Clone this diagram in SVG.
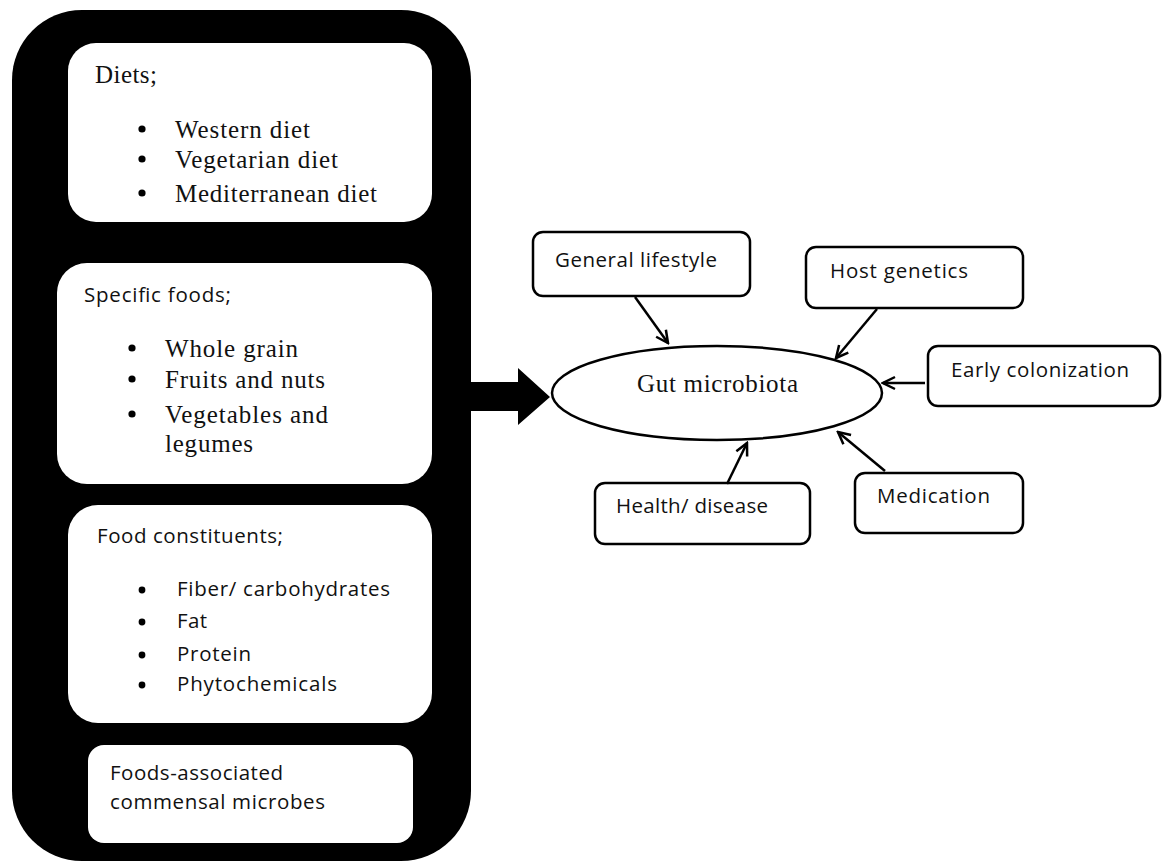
<svg xmlns="http://www.w3.org/2000/svg" width="1163" height="862" viewBox="0 0 1163 862">
  <defs>
    <style>
      .panel { fill: #ffffff; stroke: none; }
      .factor { fill: #ffffff; stroke: #000000; stroke-width: 2.5; }
      .serif { font-family: "Liberation Serif", "Times New Roman", serif; font-size: 25px; fill: #111111; }
      .sans { font-family: "Open Sans", "Liberation Sans", Arial, sans-serif; font-size: 20.5px; fill: #111111; }
      .link { stroke: #000000; stroke-width: 2.5; fill: none; marker-end: url(#open-arrow); }
      .dot { fill: #000000; }
    </style>
    <marker id="open-arrow" markerUnits="userSpaceOnUse" markerWidth="16" markerHeight="16" viewBox="0 0 16 16" refX="14" refY="8" orient="auto">
      <path d="M2,2 L14,8 L2,14" fill="none" stroke="#000000" stroke-width="2.5" stroke-linejoin="miter"/>
    </marker>
  </defs>

  <rect width="1163" height="862" fill="#ffffff"/>

  <!-- Dietary factors column -->
  <g id="diet-factors">
    <rect x="12" y="10" width="459" height="851" rx="70" ry="70" fill="#000000"/>
    <polygon points="465,382 518,382 518,368 550,397 518,425 518,411 465,411" fill="#000000"/>
  </g>

  <g id="diets">
    <rect class="panel" x="68" y="43" width="364" height="179" rx="28"/>
    <text class="serif" x="95" y="83" textLength="62" lengthAdjust="spacing">Diets;</text>
    <circle class="dot" cx="142" cy="129" r="3.6"/>
    <circle class="dot" cx="142" cy="159" r="3.6"/>
    <circle class="dot" cx="142" cy="193" r="3.6"/>
    <text class="serif" x="175" y="138" textLength="135" lengthAdjust="spacing">Western diet</text>
    <text class="serif" x="175" y="168" textLength="163" lengthAdjust="spacing">Vegetarian diet</text>
    <text class="serif" x="175" y="202" textLength="202" lengthAdjust="spacing">Mediterranean diet</text>
  </g>

  <g id="specific-foods">
    <rect class="panel" x="57" y="263" width="375" height="221" rx="30"/>
    <text class="sans" x="84" y="302" textLength="147" lengthAdjust="spacing">Specific foods;</text>
    <circle class="dot" cx="132" cy="348" r="3.6"/>
    <circle class="dot" cx="132" cy="379" r="3.6"/>
    <circle class="dot" cx="132" cy="414" r="3.6"/>
    <text class="serif" x="165" y="357" textLength="133" lengthAdjust="spacing">Whole grain</text>
    <text class="serif" x="165" y="388" textLength="160" lengthAdjust="spacing">Fruits and nuts</text>
    <text class="serif" x="165" y="423" textLength="163" lengthAdjust="spacing">Vegetables and</text>
    <text class="serif" x="165" y="452" textLength="88" lengthAdjust="spacing">legumes</text>
  </g>

  <g id="food-constituents">
    <rect class="panel" x="68" y="505" width="364" height="218" rx="30"/>
    <text class="sans" x="97" y="543" textLength="186" lengthAdjust="spacing">Food constituents;</text>
    <circle class="dot" cx="142" cy="590" r="3.4"/>
    <circle class="dot" cx="142" cy="622" r="3.4"/>
    <circle class="dot" cx="142" cy="655" r="3.4"/>
    <circle class="dot" cx="142" cy="685" r="3.4"/>
    <text class="sans" x="177" y="596" textLength="213" lengthAdjust="spacing">Fiber/ carbohydrates</text>
    <text class="sans" x="177" y="628" textLength="30" lengthAdjust="spacing">Fat</text>
    <text class="sans" x="177" y="661" textLength="74" lengthAdjust="spacing">Protein</text>
    <text class="sans" x="177" y="691" textLength="160" lengthAdjust="spacing">Phytochemicals</text>
  </g>

  <g id="commensal-microbes">
    <rect class="panel" x="88" y="745" width="325" height="98" rx="16"/>
    <text class="sans" x="110" y="780" textLength="173" lengthAdjust="spacing">Foods-associated</text>
    <text class="sans" x="110" y="809" textLength="215" lengthAdjust="spacing">commensal microbes</text>
  </g>

  <!-- Central node -->
  <g id="gut-microbiota">
    <ellipse cx="717" cy="393" rx="165" ry="47" fill="#ffffff" stroke="#000000" stroke-width="2.5"/>
    <text class="serif" x="637" y="392" textLength="161" lengthAdjust="spacing">Gut microbiota</text>
  </g>

  <!-- Other influencing factors -->
  <g id="general-lifestyle">
    <rect class="factor" x="533" y="232" width="217" height="64" rx="10"/>
    <text class="sans" x="555" y="267" textLength="162" lengthAdjust="spacing">General lifestyle</text>
  </g>

  <g id="host-genetics">
    <rect class="factor" x="806" y="247" width="217" height="61" rx="10"/>
    <text class="sans" x="830" y="278" textLength="138" lengthAdjust="spacing">Host genetics</text>
  </g>

  <g id="early-colonization">
    <rect class="factor" x="928" y="346" width="232" height="60" rx="10"/>
    <text class="sans" x="951" y="377" textLength="178" lengthAdjust="spacing">Early colonization</text>
  </g>

  <g id="health-disease">
    <rect class="factor" x="595" y="483" width="215" height="61" rx="10"/>
    <text class="sans" x="616" y="513" textLength="152" lengthAdjust="spacing">Health/ disease</text>
  </g>

  <g id="medication">
    <rect class="factor" x="855" y="473" width="168" height="60" rx="10"/>
    <text class="sans" x="877" y="503" textLength="113" lengthAdjust="spacing">Medication</text>
  </g>

  <!-- Connectors -->
  <g id="connectors">
    <line class="link" x1="635" y1="297" x2="668" y2="343"/>
    <line class="link" x1="877" y1="309" x2="836" y2="358"/>
    <line class="link" x1="925" y1="383" x2="883" y2="383"/>
    <line class="link" x1="727" y1="484" x2="747" y2="443"/>
    <line class="link" x1="885" y1="471" x2="838" y2="432"/>
  </g>
</svg>
